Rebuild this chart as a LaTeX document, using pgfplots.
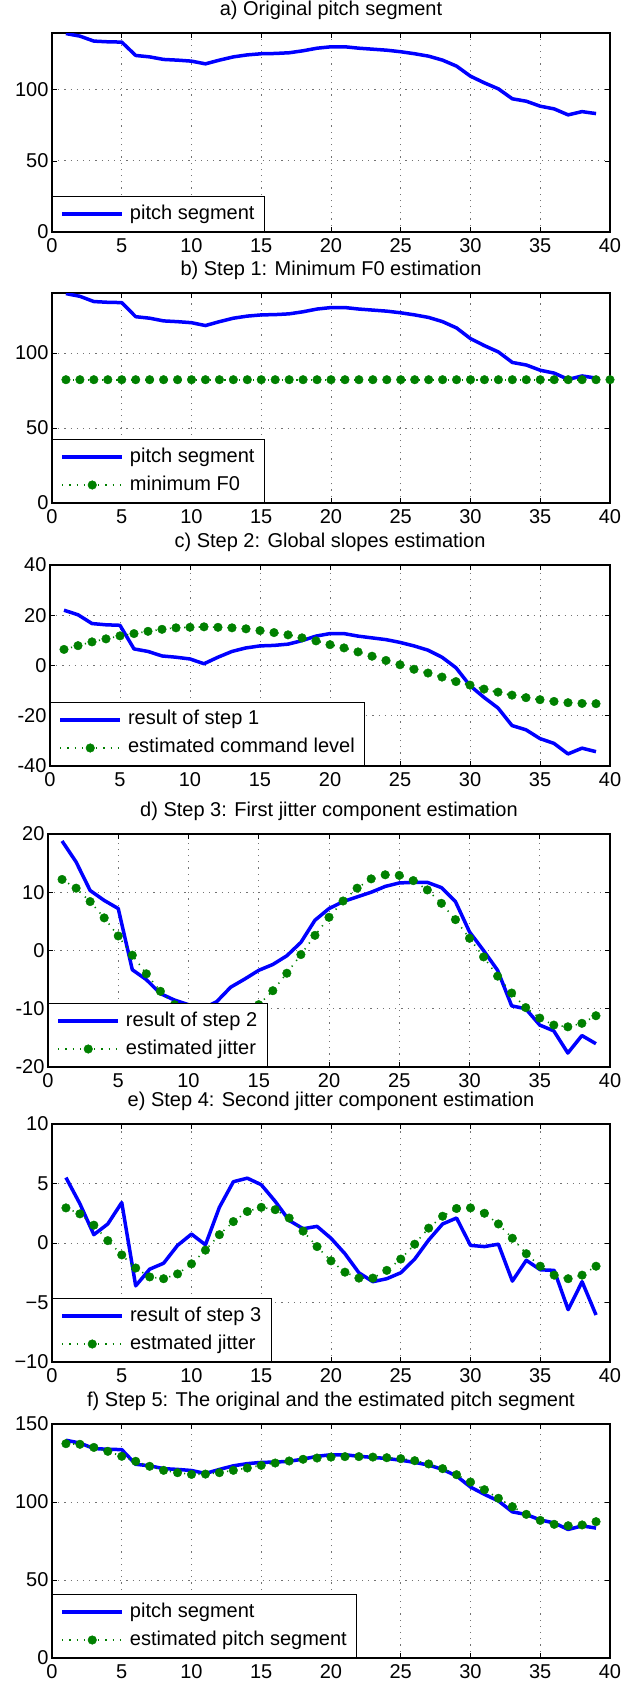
\documentclass[border=0pt]{standalone}
\usepackage{pgfplots}
\pgfplotsset{compat=1.18}
\usepackage{fontspec}
\setmainfont{Liberation Sans}
\newcommand{\fs}{\fontsize{20}{24}\selectfont}
\definecolor{mblue}{RGB}{0,0,255}
\definecolor{mgreen}{RGB}{0,128,0}

\pgfplotstableread{
x y
1 139.6
2 137.8
3 134.3
4 133.8
5 133.6
6 124.2
7 123.2
8 121.4
9 120.9
10 120.2
11 118.3
12 120.9
13 123.2
14 124.6
15 125.4
16 125.6
17 126.1
18 127.5
19 129.3
20 130.3
21 130.3
22 129.3
23 128.6
24 127.9
25 126.8
26 125.4
27 123.7
28 120.9
29 116.7
30 109.6
31 104.9
32 100.7
33 93.7
34 92.0
35 88.5
36 86.6
37 82.4
38 84.7
39 83.3
}\pitch

\pgfplotstableread{
x y
1 82.2
2 82.2
3 82.2
4 82.2
5 82.2
6 82.2
7 82.2
8 82.2
9 82.2
10 82.2
11 82.2
12 82.2
13 82.2
14 82.2
15 82.2
16 82.2
17 82.2
18 82.2
19 82.2
20 82.2
21 82.2
22 82.2
23 82.2
24 82.2
25 82.2
26 82.2
27 82.2
28 82.2
29 82.2
30 82.2
31 82.2
32 82.2
33 82.2
34 82.2
35 82.2
36 82.2
37 82.2
38 82.2
39 82.2
40 82.2
}\minfz

\pgfplotstableread{
x y
1 22.0
2 20.2
3 16.7
4 16.2
5 16.0
6 6.6
7 5.6
8 3.8
9 3.3
10 2.6
11 0.7
12 3.3
13 5.6
14 7.0
15 7.8
16 8.0
17 8.5
18 9.9
19 11.7
20 12.7
21 12.7
22 11.7
23 11.0
24 10.3
25 9.2
26 7.8
27 6.1
28 3.3
29 -0.9
30 -8.0
31 -12.7
32 -16.9
33 -23.9
34 -25.6
35 -29.1
36 -31.0
37 -35.2
38 -32.9
39 -34.3
}\stepone

\pgfplotstableread{
x y
1 6.4
2 7.9
3 9.4
4 10.6
5 11.8
6 12.7
7 13.6
8 14.4
9 15.0
10 15.2
11 15.4
12 15.2
13 15.0
14 14.6
15 13.9
16 13.1
17 12.2
18 11.0
19 9.8
20 8.3
21 7.0
22 5.4
23 3.7
24 2.0
25 0.3
26 -1.5
27 -3.0
28 -4.6
29 -6.4
30 -7.8
31 -9.4
32 -10.6
33 -11.8
34 -12.8
35 -13.6
36 -14.3
37 -14.8
38 -15.1
39 -15.2
}\command

\pgfplotstableread{
x y
1 18.8
2 15.2
3 10.3
4 8.6
5 7.2
6 -3.3
7 -5.0
8 -7.4
9 -8.5
10 -9.3
11 -10.0
12 -8.8
13 -6.3
14 -4.9
15 -3.4
16 -2.4
17 -0.9
18 1.4
19 5.2
20 7.2
21 8.4
22 9.2
23 10.0
24 11.0
25 11.6
26 11.7
27 11.7
28 10.8
29 8.4
30 3.2
31 0.0
32 -3.4
33 -9.5
34 -10.0
35 -12.8
36 -13.8
37 -17.6
38 -14.6
39 -16.0
}\steptwo

\pgfplotstableread{
x y
1 12.2
2 10.7
3 8.4
4 5.6
5 2.5
6 -0.8
7 -4.0
8 -7.0
9 -9.3
10 -10.8
11 -11.5
12 -11.6
13 -11.2
14 -10.4
15 -9.3
16 -6.9
17 -3.9
18 -0.7
19 2.6
20 5.7
21 8.5
22 10.7
23 12.3
24 13.0
25 12.9
26 12.0
27 10.4
28 8.1
29 5.3
30 2.1
31 -1.1
32 -4.4
33 -7.3
34 -9.8
35 -11.6
36 -12.8
37 -13.1
38 -12.5
39 -11.2
}\jitterone

\pgfplotstableread{
x y
1 5.5
2 3.3
3 0.7
4 1.6
5 3.4
6 -3.6
7 -2.2
8 -1.7
9 -0.2
10 0.75
11 -0.15
12 3.0
13 5.15
14 5.45
15 4.9
16 3.5
17 1.9
18 1.2
19 1.4
20 0.4
21 -0.9
22 -2.5
23 -3.25
24 -3.0
25 -2.5
26 -1.35
27 0.25
28 1.6
29 2.1
30 -0.2
31 -0.3
32 -0.1
33 -3.2
34 -1.45
35 -2.25
36 -2.3
37 -5.6
38 -3.25
39 -6.05
}\stepthree

\pgfplotstableread{
x y
1 2.95
2 2.45
3 1.5
4 0.2
5 -1.0
6 -2.1
7 -2.85
8 -3.0
9 -2.6
10 -1.75
11 -0.6
12 0.7
13 1.8
14 2.65
15 3.0
16 2.8
17 2.1
18 1.0
19 -0.3
20 -1.5
21 -2.45
22 -2.95
23 -2.95
24 -2.3
25 -1.35
26 -0.1
27 1.25
28 2.25
29 2.9
30 2.95
31 2.5
32 1.6
33 0.4
34 -0.9
35 -1.95
36 -2.7
37 -3.0
38 -2.7
39 -1.95
}\jittertwo

\pgfplotstableread{
x y
1 137.4
2 137.0
3 135.0
4 132.5
5 129.3
6 126.1
7 122.9
8 120.3
9 118.8
10 117.7
11 117.9
12 118.8
13 120.3
14 121.8
15 123.5
16 125.0
17 126.3
18 127.4
19 128.2
20 128.8
21 129.1
22 129.1
23 128.8
24 128.4
25 127.8
26 126.5
27 124.4
28 121.4
29 117.5
30 112.8
31 107.9
32 102.4
33 97.0
34 92.1
35 88.2
36 85.7
37 84.8
38 85.3
39 87.4
}\estpitch

\pgfplotsset{
  panel/.style={
    scale only axis, width=558pt,
    xmin=0, xmax=40, xtick={0,5,...,40},
    grid=major,
    major grid style={black!55, line width=0.9pt, dash pattern=on 1.2pt off 5pt},
    axis line style={line width=1.2pt},
    every tick/.style={black, line width=0.8pt},
    major tick length=5pt,
    tick align=inside,
    clip mode=individual,
    title style={font=\fs, anchor=base, yshift=12pt},
    ticklabel style={font=\fs},
    xticklabel style={yshift=-3pt},
    /pgf/number format/assume math mode=true,
    legend cell align=left,
    legend style={at={(0,0)}, anchor=south west, draw=black, line width=1pt, fill=white,
      font=\fs, inner xsep=8pt, inner ysep=6pt, row sep=5pt,
      nodes={inner sep=2pt, text height=14.5pt, text depth=4.5pt},
      /tikz/column 1/.style={column sep=4pt}},
    legend image code/.code={\draw[mark repeat=2,mark phase=2,##1] plot coordinates {(0pt,0pt) (30pt,0pt) (60pt,0pt)};},
  },
  bluel/.style={color=mblue, line width=3.5pt, line join=round, no markers},
  greend/.style={color=mgreen, line width=1.6pt, dash pattern=on 1.2pt off 6pt, mark=*, mark size=4.3pt, mark options={solid, line width=0.4pt}},
}

\begin{document}
\begin{tikzpicture}
\path[use as bounding box] (0pt,0pt) rectangle (634pt,-1689pt);

% a
\begin{axis}[panel, at={(52pt,-33pt)}, anchor=north west, height=199pt,
  ymin=0, ymax=140, ytick={0,50,100},
  title={a) Original pitch segment}]
\addplot[bluel] table[x=x,y=y] {\pitch};
\addlegendentry{pitch segment}
\end{axis}

% b
\begin{axis}[panel, at={(52pt,-293pt)}, anchor=north west, height=210pt,
  ymin=0, ymax=140, ytick={0,50,100},
  title={b) Step 1: Minimum F0 estimation}]
\addplot[bluel] table[x=x,y=y] {\pitch};
\addlegendentry{pitch segment}
\addplot[greend] table[x=x,y=y] {\minfz};
\addlegendentry{minimum F0}
\end{axis}

% c
\begin{axis}[panel, at={(50pt,-565pt)}, anchor=north west, height=201pt, width=560pt,
  ymin=-40, ymax=40, ytick={-40,-20,0,20,40}, yticklabels={-40,-20,0,20,40},
  title={c) Step 2: Global slopes estimation}]
\addplot[bluel] table[x=x,y=y] {\stepone};
\addlegendentry{result of step 1}
\addplot[greend] table[x=x,y=y] {\command};
\addlegendentry{estimated command level}
\end{axis}

% d
\begin{axis}[panel, at={(48pt,-834pt)}, anchor=north west, height=233pt, width=562pt,
  ymin=-20, ymax=20, ytick={-20,-10,0,10,20}, yticklabels={-20,-10,0,10,20},
  title={d) Step 3: First jitter component estimation}]
\addplot[bluel] table[x=x,y=y] {\steptwo};
\addlegendentry{result of step 2}
\addplot[greend] table[x=x,y=y] {\jitterone};
\addlegendentry{estimated jitter}
\end{axis}

% e
\begin{axis}[panel, at={(52pt,-1124pt)}, anchor=north west, height=238pt,
  ymin=-10, ymax=10, ytick={-10,-5,0,5,10}, yticklabels={−10,−5,0,5,10},
  title={e) Step 4: Second jitter component estimation}]
\addplot[bluel] table[x=x,y=y] {\stepthree};
\addlegendentry{result of step 3}
\addplot[greend] table[x=x,y=y] {\jittertwo};
\addlegendentry{estmated jitter}
\end{axis}

% f
\begin{axis}[panel, at={(52pt,-1424pt)}, anchor=north west, height=234pt,
  ymin=0, ymax=150, ytick={0,50,100,150},
  title={f) Step 5: The original and the estimated pitch segment}]
\addplot[bluel] table[x=x,y=y] {\pitch};
\addlegendentry{pitch segment}
\addplot[greend] table[x=x,y=y] {\estpitch};
\addlegendentry{estimated pitch segment}
\end{axis}
\end{tikzpicture}
\end{document}
